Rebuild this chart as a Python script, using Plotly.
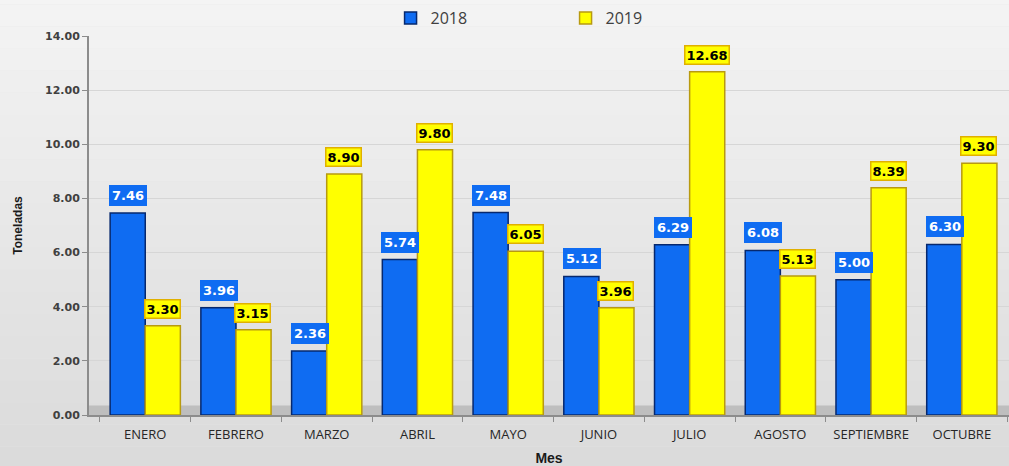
import plotly.graph_objects as go

MESES = ["ENERO", "FEBRERO", "MARZO", "ABRIL", "MAYO", "JUNIO",
         "JULIO", "AGOSTO", "SEPTIEMBRE", "OCTUBRE"]
VAL_2018 = [7.46, 3.96, 2.36, 5.74, 7.48, 5.12, 6.29, 6.08, 5.00, 6.30]
VAL_2019 = [3.30, 3.15, 8.90, 9.80, 6.05, 3.96, 12.68, 5.13, 8.39, 9.30]
Y_TICKS = [0, 2, 4, 6, 8, 10, 12, 14]

BLUE = "#0F6CF2"
BLUE_EDGE = "#06286E"
YELLOW = "#FFFF00"
YELLOW_EDGE = "#B89A10"

fig = go.Figure()
fig.add_trace(go.Bar(
    x=MESES, y=VAL_2018, name="2018",
    marker=dict(color=BLUE, line=dict(color=BLUE_EDGE, width=1.5)),
))
fig.add_trace(go.Bar(
    x=MESES, y=VAL_2019, name="2019",
    marker=dict(color=YELLOW, line=dict(color=YELLOW_EDGE, width=1.5)),
))

# value labels in coloured boxes
for mes, v in zip(MESES, VAL_2018):
    fig.add_annotation(
        x=mes, y=v, text=f"<b>{v:.2f}</b>", showarrow=False,
        xshift=-17, yshift=7, yanchor="bottom",
        font=dict(family="DejaVu Sans", size=13, color="white"),
        bgcolor=BLUE, bordercolor=BLUE, borderpad=2,
    )
for mes, v in zip(MESES, VAL_2019):
    fig.add_annotation(
        x=mes, y=v, text=f"<b>{v:.2f}</b>", showarrow=False,
        xshift=17, yshift=7, yanchor="bottom",
        font=dict(family="DejaVu Sans", size=13, color="black"),
        bgcolor=YELLOW, bordercolor="#E0B000", borderwidth=1.5, borderpad=1,
    )

# soft grey background gradient
n_bands = 24
shapes = []
for i in range(n_bands):
    g = int(246 - 28 * i / (n_bands - 1))
    shapes.append(dict(
        type="rect", xref="paper", yref="paper", layer="below",
        x0=-0.2, x1=1.1, y0=1.2 - (i + 1) * 1.4 / n_bands, y1=1.2 - i * 1.4 / n_bands,
        fillcolor=f"rgb({g},{g},{g})", line=dict(width=0),
    ))
# chart floor
shapes.append(dict(
    type="rect", xref="paper", yref="y", layer="below",
    x0=0, x1=1, y0=0, y1=0.35,
    fillcolor="#BEBEBE", line=dict(width=0),
))

fig.update_layout(
    width=1009, height=466,
    barmode="group", bargap=0.226, bargroupgap=0,
    paper_bgcolor="#E6E6E6", plot_bgcolor="rgba(0,0,0,0)",
    margin=dict(l=89, r=0, t=36, b=51, autoexpand=False),
    shapes=shapes,
    font=dict(family="DejaVu Sans", color="#404040"),
    legend=dict(
        orientation="h", x=0.518, xanchor="center", y=1 - 18 / 466, yanchor="middle",
        yref="container",
        entrywidth=130, font=dict(family="Open Sans", size=16, color="#404040"),
        bgcolor="rgba(0,0,0,0)", itemclick=False,
    ),
    showlegend=True,
)
fig.update_yaxes(
    range=[0, 14], tickvals=Y_TICKS, ticktext=[f"<b>{t:.2f}</b>" for t in Y_TICKS],
    tickfont=dict(size=11, color="#404040", family="DejaVu Sans"),
    showgrid=True, gridcolor="#D6D6D6", gridwidth=1, zeroline=False,
    showline=True, linecolor="#8C8C8C", linewidth=2,
    ticks="outside", ticklen=5, tickcolor="#8C8C8C", automargin=False,
    title=dict(text="<b>Toneladas</b>", font=dict(size=12, color="#1A1A1A",
                                                 family="Liberation Sans"), standoff=20),
)
fig.update_xaxes(
    range=[-0.62, 9.52], automargin=False,
    tickfont=dict(size=13, color="#262626", family="Open Sans"),
    showline=True, linecolor="#8C8C8C", linewidth=2,
    ticks="outside", ticklen=5, tickcolor="#8C8C8C", tickson="boundaries",
    ticklabelstandoff=6,
    title=dict(text="<b>Mes</b>", font=dict(size=14, color="#1A1A1A",
                                           family="Liberation Sans"), standoff=12),
)

# drop the page's default body margin so the figure sits at the window corner
fig.write_html("out.html", config={"displayModeBar": False},
               post_script="document.body.style.margin='0';")
